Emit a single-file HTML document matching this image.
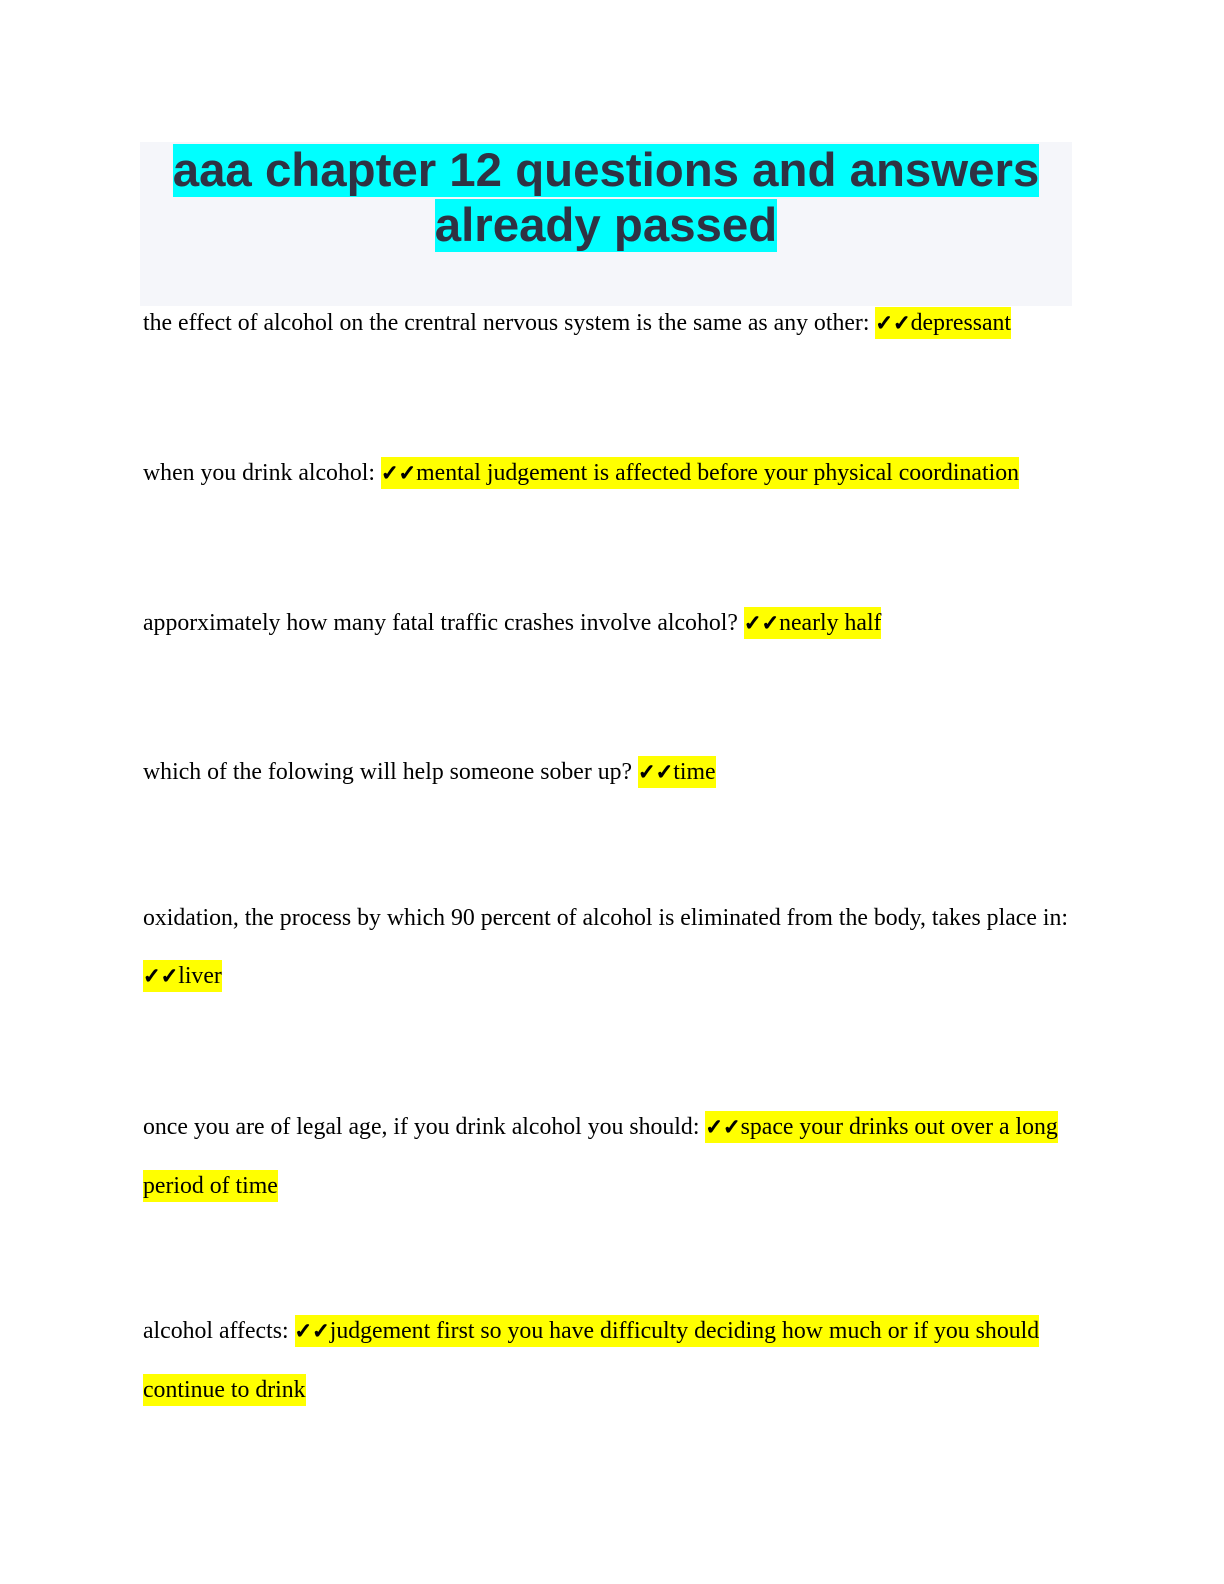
<!DOCTYPE html>
<html><head><meta charset="utf-8"><style>
body{margin:0;width:1224px;height:1584px;background:#fff;position:relative;overflow:hidden}
.box{position:absolute;left:140px;top:142px;width:932px;height:164px;background:#f5f6fa}
.t{position:absolute;left:140px;width:932px;text-align:center;font:bold 47.4px/55px "Liberation Sans",sans-serif;color:#2f3243}
.t span{background:#00ffff}
.l{position:absolute;left:143px;font:23.8px/32px "Liberation Serif",serif;color:#000;white-space:nowrap}
.h{background:#ffff00;display:inline-block}
.h b{font-family:"DejaVu Sans",sans-serif;font-weight:bold;font-size:21px;-webkit-text-stroke:1.2px #000}
</style></head><body>
<div class="box"></div>
<div class="t" style="top:143px"><span>aaa chapter 12 questions and answers</span></div>
<div class="t" style="top:198px"><span>already passed</span></div>
<div class="l" style="top:307px">the effect of alcohol on the crentral nervous system is the same as any other: <span class="h"><b>✓✓</b>depressant</span></div>
<div class="l" style="top:457px">when you drink alcohol: <span class="h"><b>✓✓</b>mental judgement is affected before your physical coordination</span></div>
<div class="l" style="top:607px">apporximately how many fatal traffic crashes involve alcohol? <span class="h"><b>✓✓</b>nearly half</span></div>
<div class="l" style="top:756px">which of the folowing will help someone sober up? <span class="h"><b>✓✓</b>time</span></div>
<div class="l" style="top:902px">oxidation, the process by which 90 percent of alcohol is eliminated from the body, takes place in:</div>
<div class="l" style="top:960px"><span class="h"><b>✓✓</b>liver</span></div>
<div class="l" style="top:1111px">once you are of legal age, if you drink alcohol you should: <span class="h"><b>✓✓</b>space your drinks out over a long</span></div>
<div class="l" style="top:1170px"><span class="h">period of time</span></div>
<div class="l" style="top:1315px">alcohol affects: <span class="h"><b>✓✓</b>judgement first so you have difficulty deciding how much or if you should</span></div>
<div class="l" style="top:1374px"><span class="h">continue to drink</span></div>
</body></html>
